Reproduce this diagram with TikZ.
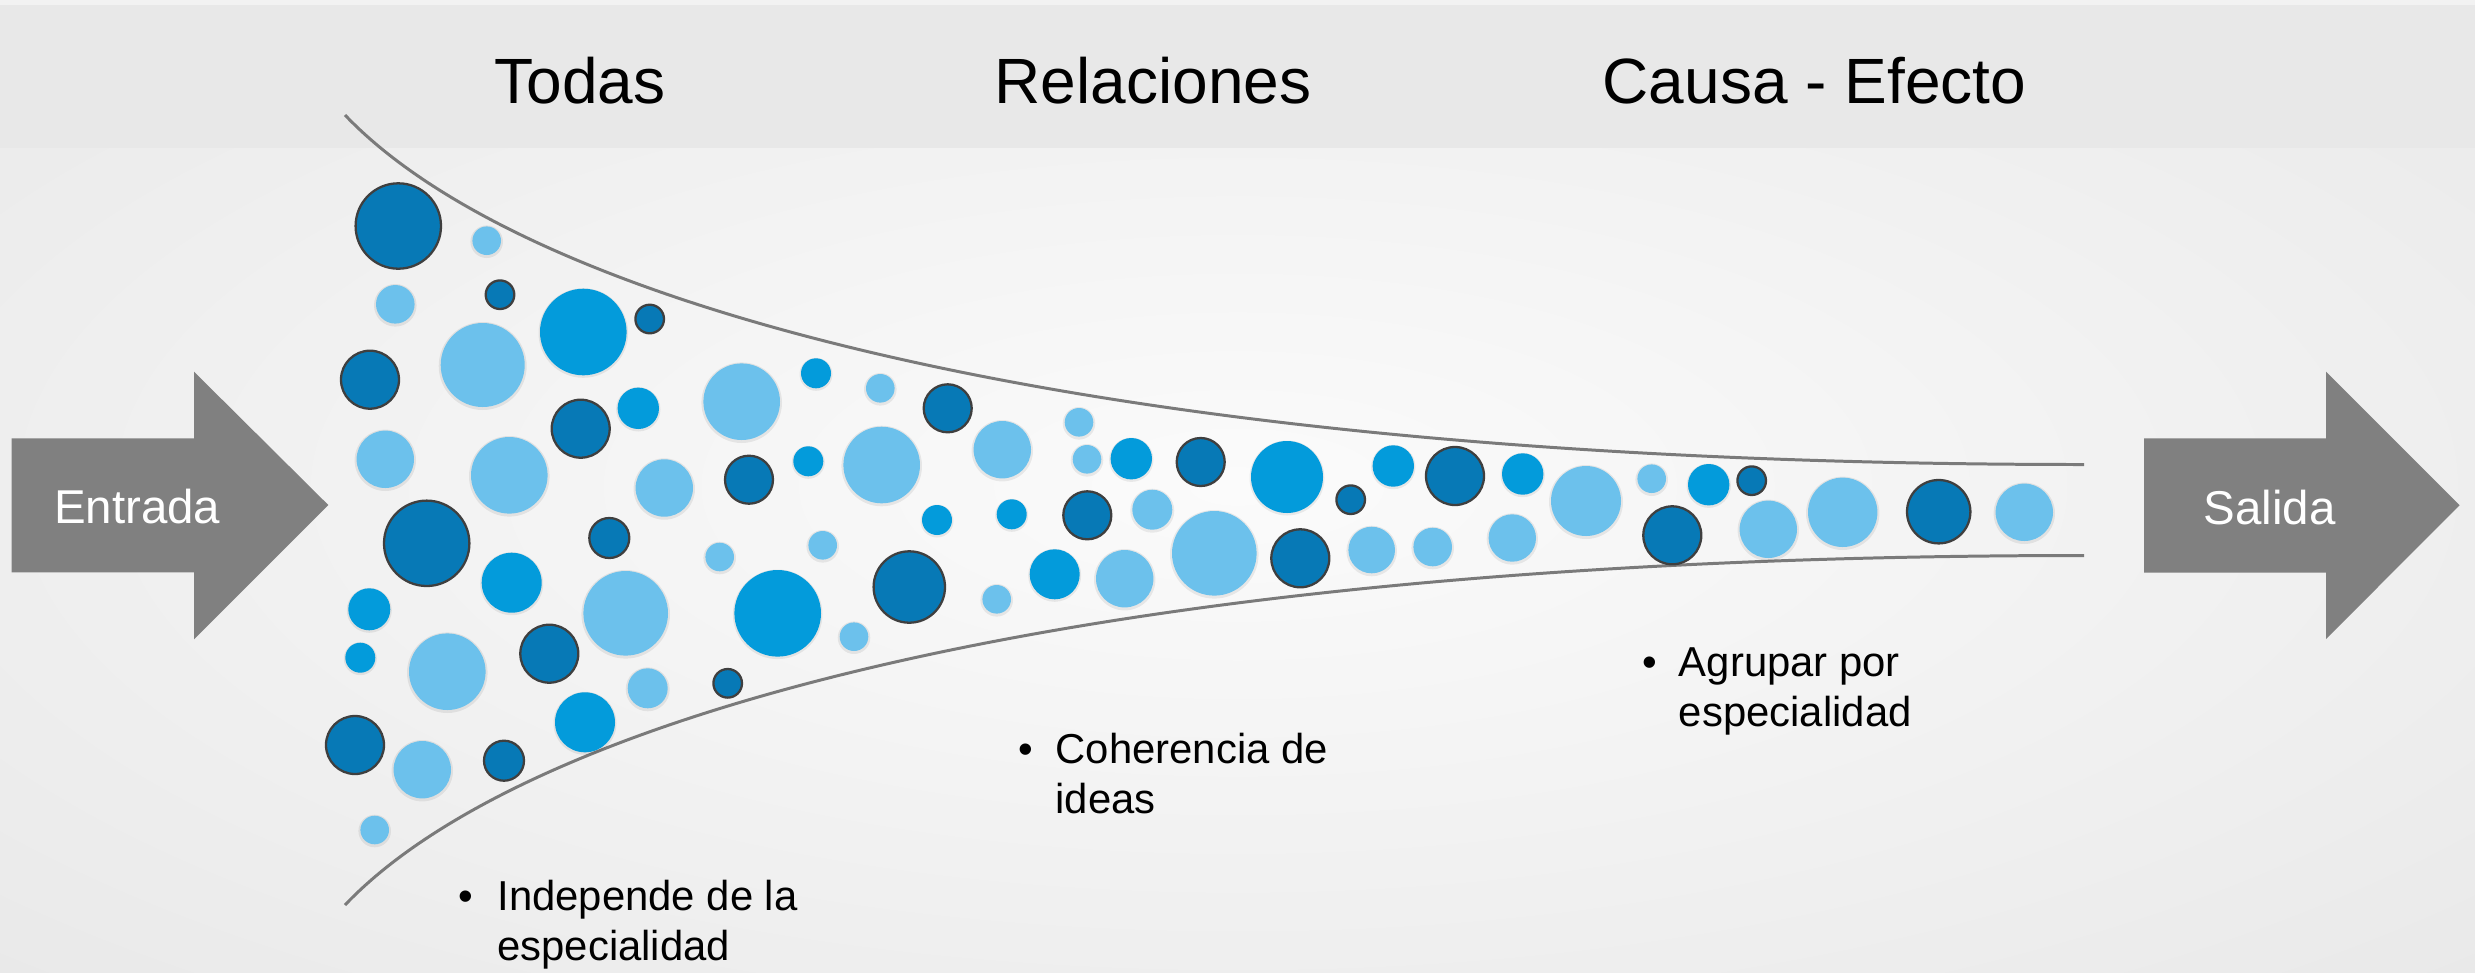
\documentclass[tikz,border=0pt]{standalone}
\usepackage{fontspec}
\setmainfont{Liberation Sans}
\definecolor{cdark}{HTML}{0779B6}
\definecolor{cmed}{HTML}{039BDB}
\definecolor{clight}{HTML}{6CC1EC}
\definecolor{cedge}{HTML}{3F3F3F}
\definecolor{arrowgray}{HTML}{808080}
\definecolor{funnelgray}{HTML}{7A7A7A}
\definecolor{bandgray}{HTML}{E8E8E8}
\definecolor{topstrip}{HTML}{F2F2F2}
\definecolor{bginner}{HTML}{FBFBFB}
\definecolor{bgouter}{HTML}{E1E1E1}
\newcommand{\bulitem}[3]{\begin{tabular}[t]{@{}l@{}l@{}}\makebox[#1][l]{•}&#2\\&#3\end{tabular}}
\begin{document}
\begin{tikzpicture}[x=0.01cm,y=-0.01cm,
  darkdot/.style={fill=cdark,draw=cedge,line width=0.65pt},
  meddot/.style={fill=cmed},
  lightdot/.style={fill=clight},
  softshadow/.style={fill=black,opacity=0.07},
  funnel/.style={draw=funnelgray,line width=0.85pt},
  bigarrow/.style={fill=arrowgray},
  title/.style={anchor=base west,inner sep=0pt,font=\fontsize{18.2}{22}\selectfont,text=black},
  arrowlabel/.style={anchor=base west,inner sep=0pt,font=\fontsize{13.5}{16}\selectfont,text=white},
  bullettext/.style={anchor=base west,inner sep=0pt,font=\fontsize{11.9}{14.2}\selectfont,text=black}]
\useasboundingbox (0,0) rectangle (2475,972);
% background
\begin{scope}
\clip (0,0) rectangle (2475,972);
\shade[inner color=bginner,outer color=bgouter] (-1300,-520) rectangle (3775,1492);
\end{scope}
\fill[topstrip] (0,0) rectangle (2475,5);
\fill[bandgray] (0,5) rectangle (2475,148);
% titles
\node[title] (todas) at (494,103) {Todas};
\node[title] (relaciones) at (994,103) {Relaciones};
\node[title] (causa) at (1602,103) {Causa - Efecto};
% funnel
\draw[funnel] (345,115) .. controls (525,304) and (1084,464.5) .. (2084,464.5);
\draw[funnel] (345,905) .. controls (525,716) and (1084,555.5) .. (2084,555.5);
% arrows
\fill[bigarrow] (11.7,438.3) -- (194,438.3) -- (194,371.7) -- (328.3,505) -- (194,639.3) -- (194,572.3) -- (11.7,572.3) -- cycle;
\fill[bigarrow] (2144,438.3) -- (2326,438.3) -- (2326,371.7) -- (2459.6,505.3) -- (2326,639) -- (2326,572.7) -- (2144,572.7) -- cycle;
\node[arrowlabel] (entrada) at (53.3,523.3) {Entrada};
\node[arrowlabel] (salida) at (2203,524.3) {Salida};
% circles
\foreach \cx/\cy/\cr in {486.7/240.7/14.3, 395.3/304.3/19.3, 482.7/365/42, 741.7/401.7/38.3, 385.3/459.3/28.7, 509.3/475.3/38.3, 664.3/488/28.7, 719.7/557/14.3, 822.7/545.3/14.3, 625.7/613.3/42.3, 447.3/671.7/38.3, 647.7/688.3/20, 422.3/769.7/28.7, 374.7/830/14.3, 880.3/388.3/14.3, 881.7/465/38.3, 1002.3/449.7/28.7, 1079/422.3/14.3, 1087/459.3/14.3, 1152.3/509.7/20, 1214.3/553.3/42.3, 996.7/599.3/14.3, 1124.7/578.7/28.7, 854/636.7/14.3, 1371.7/550/23.3, 1586/501/35, 1432.7/547/19.3, 1512.3/538/23.7, 1651.7/478.7/14.3, 1768.3/529.3/28.7, 1842.7/512.3/34.7, 2024.3/512.3/28.7}
{
  \fill[softshadow] (\cx,\cy+1) circle[radius=\cr+2];
  \fill[lightdot] (\cx,\cy) circle[radius=\cr];
}
\foreach \cx/\cy/\cr in {583.3/332/43.3, 816/373.3/15, 638.3/408.3/20.7, 808.3/461.3/15, 511.7/582.7/30, 369.3/609.3/21, 777.7/613.3/43.3, 360.3/657.7/15, 585/722.3/30, 937/520/15, 1011.7/514.3/15, 1131.3/458.7/20.7, 1287/477/36, 1054.7/574.3/25, 1393.3/466/20.7, 1522.7/474/20.7, 1708.7/484.7/20.7}
{
  \fill[softshadow] (\cx,\cy+1) circle[radius=\cr+1.5];
  \fill[meddot] (\cx,\cy) circle[radius=\cr];
}
\foreach \cx/\cy/\cr in {398.3/226/42.7, 500/294.7/14.3, 649.7/319/14.3, 370/379.7/29, 580.7/428.7/29, 749/479.7/24, 426.7/543.3/42.7, 609.3/538/20, 727.7/683.3/14.3, 549.3/653.7/29, 355/745/29, 504/760.7/20, 947.7/408.3/24, 1200.7/462/24, 1350.7/499.7/14.3, 1087.3/515.3/24, 1300.3/558.3/29, 909.3/587/35.7, 1455/476/29, 1751.7/480.7/14.3, 1672.3/535.3/29, 1938.7/511.7/31.7}
{
  \filldraw[darkdot] (\cx,\cy) circle[radius=\cr];
}
% bullet texts
\node[bullettext] (independe) at (458,910.7) {\bulitem{11pt}{Independe de la}{especialidad}};
\node[bullettext] (coherencia) at (1018,763.3) {\bulitem{10.5pt}{Coherencia de}{ideas}};
\node[bullettext] (agrupar) at (1642,676.7) {\bulitem{10.3pt}{Agrupar por}{especialidad}};
\end{tikzpicture}
\end{document}
